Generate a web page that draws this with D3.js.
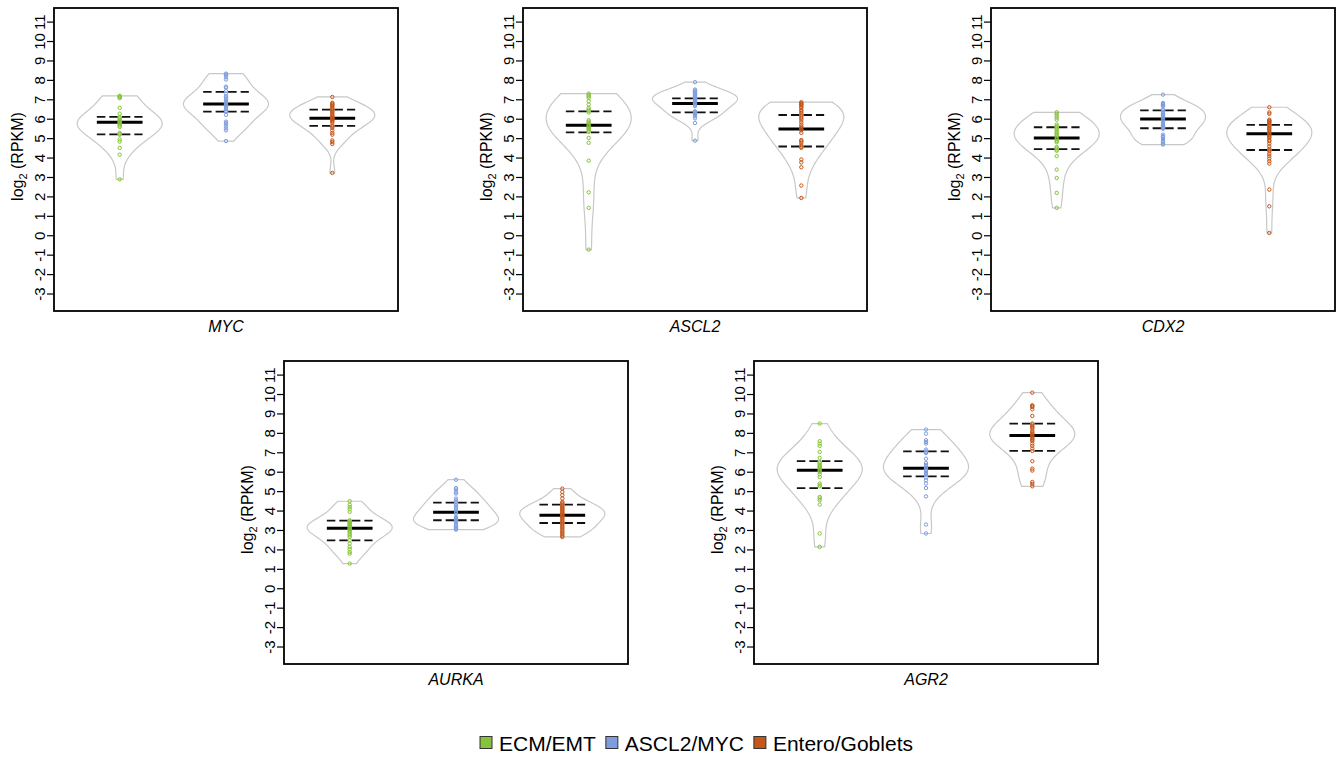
<!DOCTYPE html>
<html>
<head>
<meta charset="utf-8">
<script src="https://cdn.jsdelivr.net/npm/d3@7/dist/d3.min.js"></script>
<style>
  html, body { margin: 0; padding: 0; background: #fff; }
  svg { display: block; font-family: "Liberation Sans", Arial, sans-serif; }
</style>
</head>
<body>
<svg id="chart" width="1336" height="758"></svg>
<script>
// ---------------- DATA ----------------
const groups = ["ECM/EMT", "ASCL2/MYC", "Entero/Goblets"];
const genes = ["MYC", "ASCL2", "CDX2", "AURKA", "AGR2"];
const yTickLabels = [-3, -2, -1, 0, 1, 2, 3, 4, 5, 6, 7, 8, 9, 10, 11];

// per-sample log2(RPKM) values
const mycEcm = [7.18, 7.15, 7.1, 7.06, 6.56, 6.26, 6.08, 6.02, 5.95, 5.9, 5.85, 5.82, 5.78, 5.72, 5.65, 5.58, 5.27, 5.2, 5.18, 4.93, 4.82, 4.5, 4.15, 2.88];
const mycAscl = [8.32, 8.28, 8.22, 8.13, 8.02, 7.65, 7.6, 7.42, 7.3, 7.15, 7.08, 7.0, 6.92, 6.85, 6.8, 6.76, 6.72, 6.68, 6.62, 6.55, 6.48, 6.4, 6.35, 6.2, 5.85, 5.78, 5.7, 5.6, 5.5, 5.4, 4.85];
const mycEntero = [7.12, 6.82, 6.78, 6.73, 6.68, 6.64, 6.56, 6.5, 6.47, 6.4, 6.35, 6.28, 6.22, 6.15, 6.1, 6.05, 6.02, 6.0, 5.97, 5.93, 5.88, 5.8, 5.65, 5.6, 5.53, 5.4, 5.27, 5.18, 4.88, 4.8, 4.7, 3.21];

const ascl2Ecm = [7.29, 7.22, 7.15, 7.07, 6.9, 6.73, 6.56, 6.47, 6.4, 6.32, 5.92, 5.85, 5.78, 5.7, 5.64, 5.58, 5.52, 5.45, 5.38, 5.32, 5.01, 4.76, 3.84, 2.21, 1.41, -0.74];
const ascl2Ascl = [7.88, 7.5, 7.45, 7.4, 7.35, 7.3, 7.25, 7.2, 7.15, 7.1, 7.05, 7.0, 6.95, 6.9, 6.85, 6.8, 6.78, 6.72, 6.65, 6.38, 6.34, 6.3, 6.25, 6.2, 6.12, 6.02, 5.78, 4.87];
const ascl2Entero = [6.85, 6.8, 6.76, 6.72, 6.68, 6.6, 6.56, 6.45, 6.38, 6.3, 6.21, 6.12, 6.04, 5.95, 5.82, 5.7, 5.6, 5.53, 5.45, 5.4, 5.27, 4.9, 4.84, 4.76, 4.63, 4.55, 4.5, 3.9, 3.75, 3.5, 2.56, 1.92];

const cdx2Ecm = [6.33, 6.25, 6.15, 6.05, 5.95, 5.7, 5.62, 5.55, 5.48, 5.4, 5.32, 5.25, 5.18, 5.1, 5.01, 4.93, 4.85, 4.79, 4.55, 4.48, 4.41, 4.35, 4.07, 3.38, 2.95, 2.18, 1.41];
const cdx2Ascl = [7.24, 6.81, 6.76, 6.72, 6.68, 6.64, 6.47, 6.42, 6.35, 6.28, 6.21, 6.15, 6.09, 6.02, 5.95, 5.85, 5.78, 5.72, 5.66, 5.58, 5.53, 5.48, 5.18, 5.1, 5.06, 4.95, 4.85, 4.79, 4.72, 4.67];
const cdx2Entero = [6.59, 6.32, 6.25, 5.95, 5.9, 5.87, 5.82, 5.78, 5.7, 5.66, 5.6, 5.53, 5.47, 5.4, 5.33, 5.27, 5.2, 5.13, 5.07, 5.01, 4.9, 4.84, 4.72, 4.58, 4.45, 4.38, 4.32, 4.19, 4.07, 3.95, 3.81, 3.69, 2.35, 1.49, 0.12];

const aurkaEcm = [4.48, 4.3, 4.18, 4.07, 3.93, 3.5, 3.45, 3.41, 3.37, 3.33, 3.28, 3.24, 3.18, 3.12, 3.07, 3.02, 2.98, 2.9, 2.81, 2.73, 2.64, 2.47, 2.3, 2.13, 2.01, 1.87, 1.78, 1.27];
const aurkaAscl = [5.59, 5.16, 5.08, 4.96, 4.87, 4.62, 4.53, 4.44, 4.36, 4.27, 4.18, 4.1, 4.01, 3.93, 3.85, 3.67, 3.62, 3.59, 3.55, 3.5, 3.45, 3.41, 3.33, 3.24, 3.18, 3.12, 3.06, 3.02];
const aurkaEntero = [5.13, 4.96, 4.79, 4.62, 4.44, 4.38, 4.31, 4.25, 4.2, 4.15, 4.1, 4.05, 4.0, 3.95, 3.9, 3.85, 3.8, 3.76, 3.72, 3.68, 3.62, 3.55, 3.48, 3.42, 3.36, 3.3, 3.22, 3.15, 3.08, 3.0, 2.92, 2.85, 2.78, 2.7, 2.64];

const agr2Ecm = [8.48, 7.57, 7.45, 7.33, 7.02, 6.71, 6.5, 6.45, 6.36, 6.3, 6.25, 6.19, 6.11, 6.05, 5.99, 5.87, 5.73, 5.39, 5.3, 5.25, 4.7, 4.62, 4.53, 4.31, 2.82, 2.13];
const agr2Ascl = [8.17, 7.96, 7.62, 7.53, 7.45, 7.14, 7.05, 7.0, 6.96, 6.67, 6.45, 6.35, 6.28, 6.22, 6.16, 6.1, 6.04, 5.93, 5.88, 5.82, 5.7, 5.56, 5.39, 5.16, 4.73, 3.28, 2.82];
const agr2Entero = [10.07, 9.42, 9.38, 9.33, 9.21, 8.87, 8.48, 8.42, 8.35, 8.28, 8.22, 8.1, 8.02, 7.96, 7.9, 7.84, 7.77, 7.7, 7.64, 7.58, 7.45, 7.33, 7.19, 7.07, 6.54, 6.16, 6.06, 5.47, 5.37, 5.25];

// summary lines (median and quartiles), order: genes x groups
const medianValues = [[5.82, 6.76, 6.02], [5.66, 6.78, 5.47], [5.01, 5.99, 5.23], [3.09, 3.91, 3.76], [6.07, 6.18, 7.86]];
const q1Values     = [[5.19, 6.37, 5.63], [5.30, 6.33, 4.57], [4.43, 5.51, 4.39], [2.47, 3.50, 3.36], [5.16, 5.76, 7.07]];
const q3Values     = [[6.09, 7.38, 6.47], [6.38, 7.05, 6.19], [5.56, 6.43, 5.68], [3.48, 4.41, 4.31], [6.54, 7.05, 8.48]];

const sampleValues = [
  [mycEcm, mycAscl, mycEntero],
  [ascl2Ecm, ascl2Ascl, ascl2Entero],
  [cdx2Ecm, cdx2Ascl, cdx2Entero],
  [aurkaEcm, aurkaAscl, aurkaEntero],
  [agr2Ecm, agr2Ascl, agr2Entero]
];

// ---------------- STYLE / LAYOUT ----------------
const colors = ["#86c23a", "#7d9ddc", "#c4561a"];
const panelW = 344, panelH = 303;
const panelPos = [[54, 8], [523, 8], [991, 8], [284, 361], [754, 361]];
const yDomain = [-3.9, 11.7];
const xDomain = [0.382, 3.618];

const svg = d3.select("#chart");

function kdeShape(values) {
  const n = values.length;
  const sd = d3.deviation(values);
  const h = sd * Math.pow(4 / (3 * n), 0.2);
  const lo = d3.min(values), hi = d3.max(values);
  const N = 100;
  const grid = d3.range(N).map(i => lo + (hi - lo) * i / (N - 1));
  const dens = grid.map(g => d3.sum(values, v => Math.exp(-0.5 * ((g - v) / h) ** 2)));
  const maxD = d3.max(dens);
  return grid.map((g, i) => ({ v: g, w: dens[i] / maxD * 0.4 }));
}

genes.forEach((gene, gi) => {
  const [px, py] = panelPos[gi];
  const g = svg.append("g").attr("transform", `translate(${px},${py})`);
  const x = d3.scaleLinear().domain(xDomain).range([0, panelW]);
  const y = d3.scaleLinear().domain(yDomain).range([panelH, 0]);

  groups.forEach((grp, k) => {
    const vals = sampleValues[gi][k];
    const pos = k + 1;
    const shape = kdeShape(vals);
    const pts = shape.map(d => [x(pos + d.w), y(d.v)])
      .concat(shape.slice().reverse().map(d => [x(pos - d.w), y(d.v)]));
    g.append("path")
      .attr("d", d3.line()(pts) + "Z")
      .attr("fill", "#fff")
      .attr("stroke", "#c8c8c8")
      .attr("stroke-width", 1.2);

    const halfW = 0.215;
    [q1Values[gi][k], q3Values[gi][k]].forEach(qv => {
      g.append("line")
        .attr("x1", x(pos - halfW)).attr("x2", x(pos + halfW))
        .attr("y1", y(qv)).attr("y2", y(qv))
        .attr("stroke", "#111").attr("stroke-width", 1.8)
        .attr("stroke-dasharray", "8.5,4");
    });
    g.append("line")
      .attr("x1", x(pos - halfW)).attr("x2", x(pos + halfW))
      .attr("y1", y(medianValues[gi][k])).attr("y2", y(medianValues[gi][k]))
      .attr("stroke", "#000").attr("stroke-width", 3);

    g.selectAll(null).data(vals).enter().append("circle")
      .attr("cx", x(pos)).attr("cy", d => y(d))
      .attr("r", 1.7)
      .attr("fill", "none")
      .attr("stroke", colors[k])
      .attr("stroke-width", 1);
  });

  const axis = d3.axisLeft(y).tickValues(yTickLabels).tickSize(7).tickPadding(2).tickFormat(d => String(d));
  const ax = g.append("g").call(axis);
  ax.select(".domain").remove();
  ax.selectAll(".tick line").attr("stroke", "#000").attr("stroke-width", 1.2);
  ax.selectAll(".tick text")
    .attr("font-size", 15)
    .attr("font-family", "Liberation Sans, Arial, sans-serif")
    .attr("fill", "#000")
    .attr("text-anchor", "middle")
    .attr("dy", null)
    .attr("x", null)
    .attr("transform", "translate(-9,0) rotate(-90)")
    .attr("y", 0);

  g.append("rect")
    .attr("x", 0).attr("y", 0).attr("width", panelW).attr("height", panelH)
    .attr("fill", "none").attr("stroke", "#000").attr("stroke-width", 1.8);

  const yl = g.append("text")
    .attr("transform", `translate(-31,${panelH / 2 - 3}) rotate(-90)`)
    .attr("text-anchor", "middle")
    .attr("font-size", 16)
    .attr("fill", "#000");
  yl.append("tspan").text("log");
  yl.append("tspan").text("2").attr("font-size", 11).attr("dy", 4);
  yl.append("tspan").text(" (RPKM)").attr("dy", -4);

  g.append("text")
    .attr("x", panelW / 2).attr("y", panelH + 21)
    .attr("text-anchor", "middle")
    .attr("font-size", 16)
    .attr("font-style", "italic")
    .attr("fill", "#000")
    .text(gene);
});

// legend
const legend = svg.append("g");
const items = legend.selectAll("g").data(groups).enter().append("g");
items.append("rect").attr("width", 12).attr("height", 12).attr("y", -14)
  .attr("fill", (d, i) => colors[i]).attr("stroke", "#333").attr("stroke-width", 1);
items.append("text").attr("x", 19).attr("y", 0).attr("font-size", 21).attr("fill", "#000").text(d => d);
let cx = 0;
items.each(function () {
  const w = this.querySelector("text").getComputedTextLength();
  d3.select(this).attr("transform", `translate(${cx},0)`);
  cx += 19 + w + 10;
});
const totalW = cx - 10;
legend.attr("transform", `translate(${696.5 - totalW / 2},750.5)`);
</script>
</body>
</html>
